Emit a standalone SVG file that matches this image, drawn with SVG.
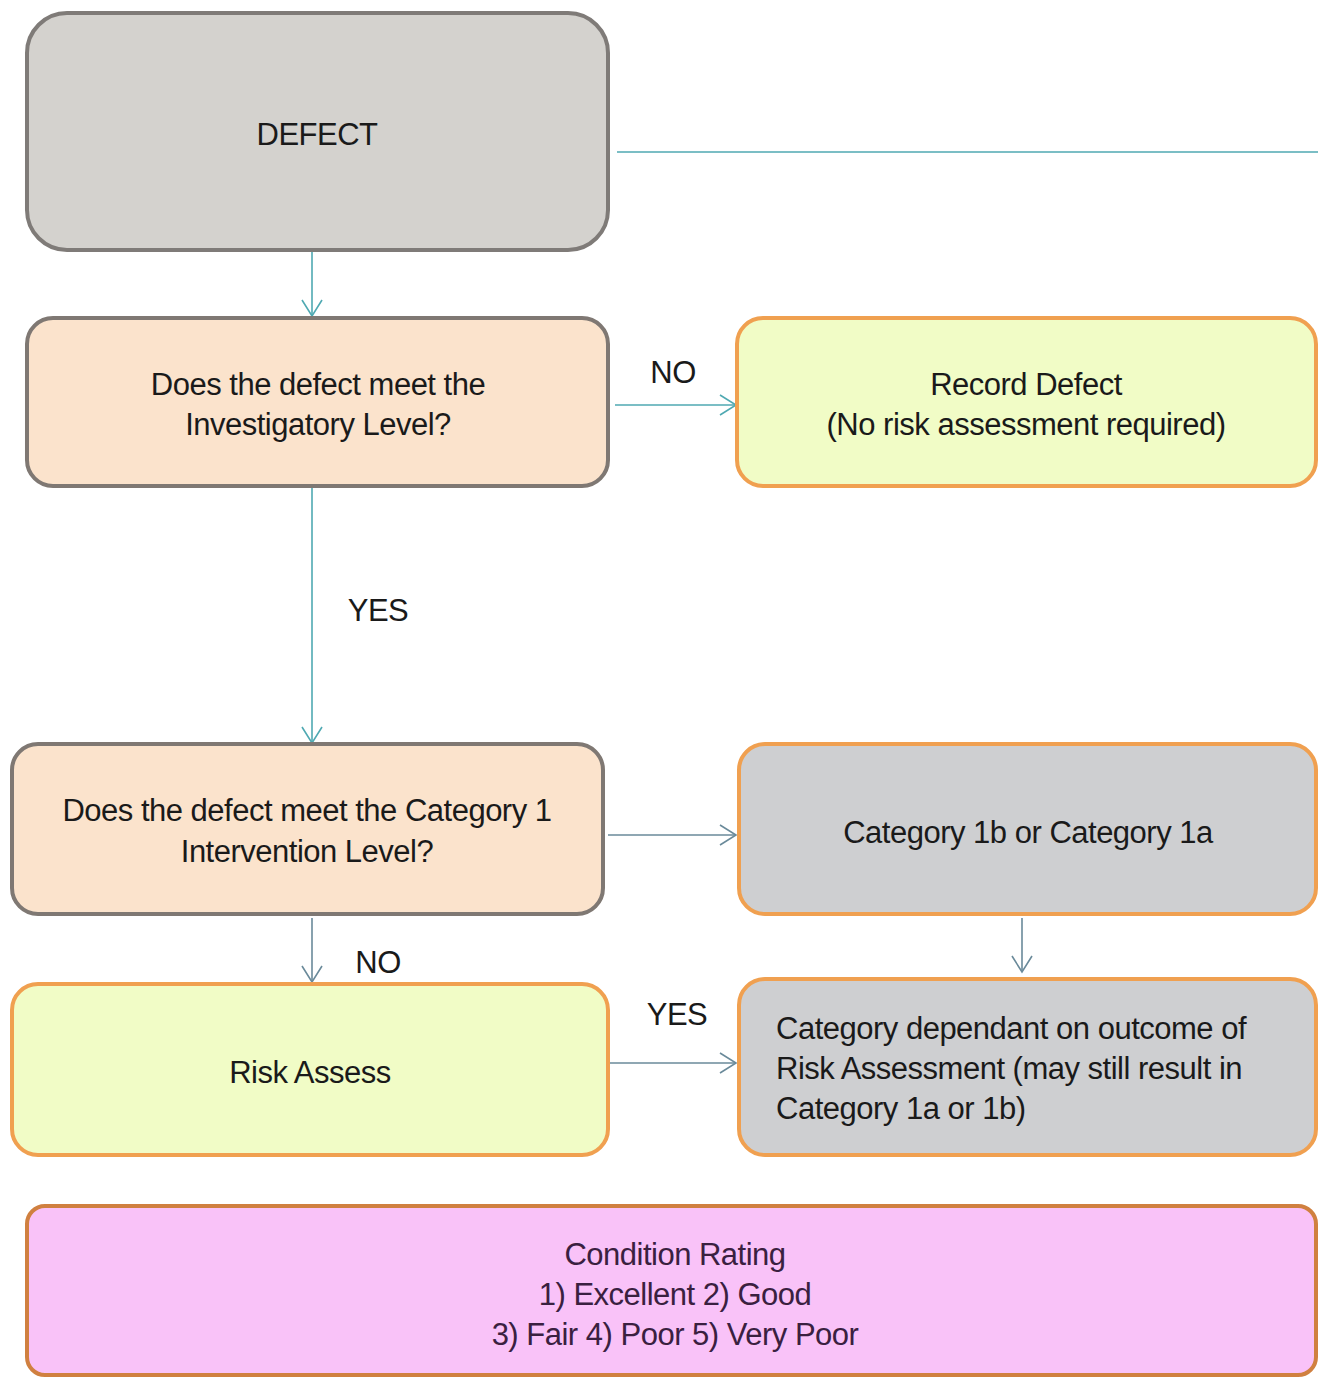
<svg xmlns="http://www.w3.org/2000/svg" width="1318" height="1378" viewBox="0 0 1318 1378">
<style>
  text { font-family: "Liberation Sans", Arial, sans-serif; font-size: 31px; fill: #1a1a1a; letter-spacing: -0.5px; }
  .c { text-anchor: middle; }
  .box { stroke-width: 4; }
  .grey { fill: #d4d2ce; stroke: #7f7b78; }
  .peach { fill: #fbe3cc; stroke: #7f7873; }
  .lime { fill: #f1fcc6; stroke: #f0a050; }
  .cat { fill: #cecfd1; stroke: #f0a050; }
  .pink { fill: #f9c2f8; stroke: #d08040; }
  .teal { stroke: #4fa9b2; stroke-width: 1.6; fill: none; }
  .slate { stroke: #6a8a9a; stroke-width: 1.6; fill: none; }
</style>
<defs>
  <marker id="at" markerWidth="24" markerHeight="24" refX="20" refY="12" orient="auto" markerUnits="userSpaceOnUse">
    <path d="M4,2 L20,12 L4,22" fill="none" stroke="#4fa9b2" stroke-width="1.6"/>
  </marker>
  <marker id="as" markerWidth="24" markerHeight="24" refX="20" refY="12" orient="auto" markerUnits="userSpaceOnUse">
    <path d="M4,2 L20,12 L4,22" fill="none" stroke="#6a8a9a" stroke-width="1.6"/>
  </marker>
</defs>
<rect width="1318" height="1378" fill="#ffffff"/>
<g id="connectors">
  <line class="teal" x1="617" y1="152" x2="1318" y2="152"/>
  <line class="teal" x1="312" y1="252" x2="312" y2="316" marker-end="url(#at)"/>
  <line class="teal" x1="615" y1="405" x2="736" y2="405" marker-end="url(#at)"/>
  <line class="teal" x1="312" y1="488" x2="312" y2="743" marker-end="url(#at)"/>
  <line class="slate" x1="608" y1="835" x2="736" y2="835" marker-end="url(#as)"/>
  <line class="slate" x1="1022" y1="918" x2="1022" y2="972" marker-end="url(#as)"/>
  <line class="slate" x1="312" y1="918" x2="312" y2="982" marker-end="url(#as)"/>
  <line class="slate" x1="608" y1="1063" x2="736" y2="1063" marker-end="url(#as)"/>
  <text x="673" y="383" class="c">NO</text>
  <text x="378" y="621" class="c">YES</text>
  <text x="378" y="973" class="c">NO</text>
  <text x="677" y="1025" class="c">YES</text>
</g>
<g id="defect">
  <rect class="box grey" x="27" y="13" width="581" height="237" rx="40"/>
  <text x="317" y="145" class="c">DEFECT</text>
</g>
<g id="investigatory">
  <rect class="box peach" x="27" y="318" width="581" height="168" rx="26"/>
  <text x="318" y="395" class="c">Does the defect meet the</text>
  <text x="318" y="435" class="c">Investigatory Level?</text>
</g>
<g id="record">
  <rect class="box lime" x="737" y="318" width="579" height="168" rx="26"/>
  <text x="1026" y="395" class="c">Record Defect</text>
  <text x="1026" y="435" class="c">(No risk assessment required)</text>
</g>
<g id="intervention">
  <rect class="box peach" x="12" y="744" width="591" height="170" rx="26"/>
  <text x="307" y="821" class="c">Does the defect meet the Category 1</text>
  <text x="307" y="862" class="c">Intervention Level?</text>
</g>
<g id="category">
  <rect class="box cat" x="739" y="744" width="577" height="170" rx="26"/>
  <text x="1028" y="843" class="c">Category 1b or Category 1a</text>
</g>
<g id="risk">
  <rect class="box lime" x="12" y="984" width="596" height="171" rx="26"/>
  <text x="310" y="1083" class="c">Risk Assess</text>
</g>
<g id="dependant">
  <rect class="box cat" x="739" y="979" width="577" height="176" rx="26"/>
  <text x="776" y="1039">Category dependant on outcome of</text>
  <text x="776" y="1079">Risk Assessment (may still result in</text>
  <text x="776" y="1119">Category 1a or 1b)</text>
</g>
<g id="condition">
  <rect class="box pink" x="27" y="1206" width="1289" height="169" rx="18"/>
  <text x="675" y="1265" class="c" style="fill:#3a2040">Condition Rating</text>
  <text x="675" y="1305" class="c" style="fill:#3a2040">1) Excellent 2) Good</text>
  <text x="675" y="1345" class="c" style="fill:#3a2040">3) Fair 4) Poor 5) Very Poor</text>
</g>
</svg>
